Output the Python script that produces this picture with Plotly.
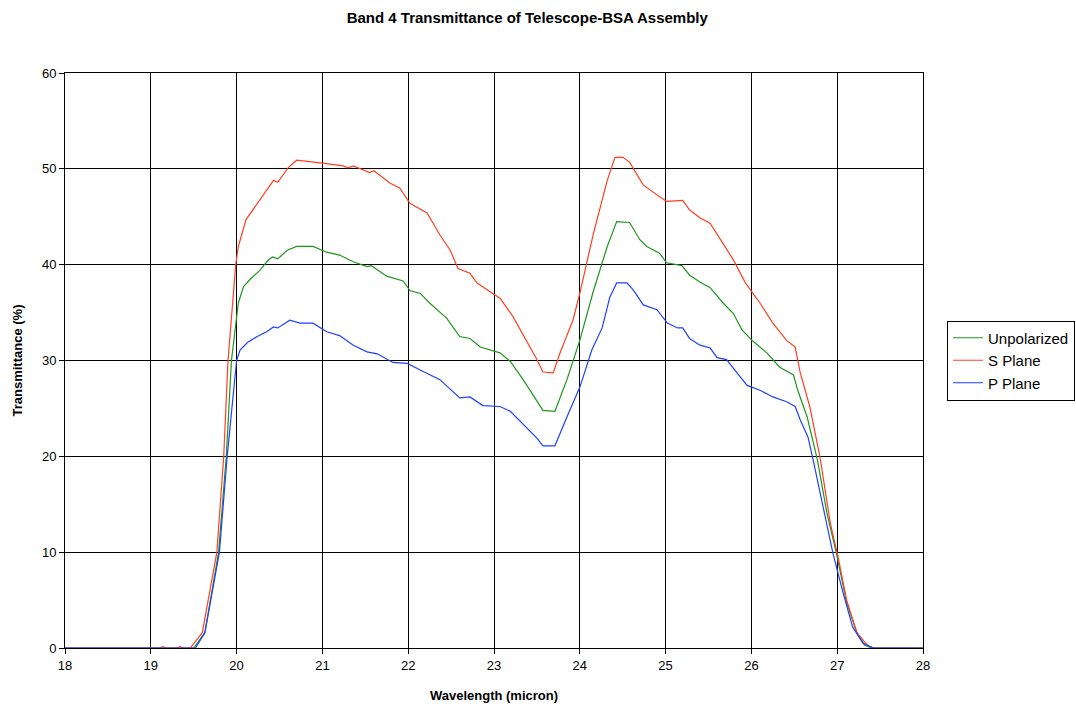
import plotly.graph_objects as go

# Unpolarized
unp_x = [18.0, 19.5, 19.63, 19.79, 19.88, 19.94, 20.02, 20.08, 20.15, 20.27, 20.37, 20.42, 20.48, 20.59, 20.7,
         20.89, 21.05, 21.2, 21.36, 21.52, 21.57, 21.75, 21.94, 22.02, 22.14, 22.25, 22.45, 22.6, 22.72, 22.84,
         23.07, 23.19, 23.34, 23.45, 23.57, 23.71, 23.85, 24.0, 24.16, 24.32, 24.43, 24.58, 24.7, 24.78, 24.93,
         25.01, 25.19, 25.28, 25.4, 25.52, 25.67, 25.79, 25.89, 26.02, 26.18, 26.33, 26.49, 26.54, 26.65, 26.77,
         26.88, 27.0, 27.11, 27.23, 27.32, 27.4, 28.0]
unp_y = [0, 0, 1.6, 10.0, 20.0, 30.0, 36.0, 37.7, 38.4, 39.4, 40.5, 40.8, 40.6, 41.5, 41.9,
         41.9, 41.3, 41.0, 40.3, 39.8, 39.9, 38.8, 38.3, 37.3, 37.0, 36.0, 34.4, 32.5, 32.3, 31.4,
         30.8, 29.9, 28.0, 26.4, 24.8, 24.7, 28.0, 32.1, 37.3, 41.9, 44.5, 44.4, 42.6, 41.9, 41.2,
         40.2, 39.9, 38.9, 38.2, 37.6, 36.0, 34.9, 33.2, 32.0, 30.8, 29.3, 28.5, 26.9, 24.1, 19.6,
         14.1, 9.5, 4.7, 1.6, 0.3, 0, 0]

# S Plane
s_x = [18.0, 19.1, 19.14, 19.18, 19.3, 19.34, 19.38, 19.46, 19.6, 19.77, 19.85, 19.9, 19.99, 20.02, 20.11,
       20.24, 20.35, 20.43, 20.48, 20.6, 20.7, 20.82, 21.0, 21.24, 21.3, 21.36, 21.55, 21.6, 21.79, 21.9,
       22.02, 22.22, 22.37, 22.49, 22.58, 22.72, 22.8, 22.95, 23.07, 23.22, 23.38, 23.5, 23.57, 23.69,
       23.77, 23.92, 24.0, 24.16, 24.32, 24.41, 24.5, 24.58, 24.74, 24.85, 25.01, 25.2, 25.28, 25.4, 25.52,
       25.67, 25.79, 25.93, 26.1, 26.25, 26.41, 26.51, 26.57, 26.68, 26.8, 26.92, 27.01, 27.11, 27.23,
       27.35, 27.42, 28.0]
s_y = [0, 0, 0.15, 0, 0, 0.15, 0, 0, 1.6, 10.0, 20.0, 30.0, 40.0, 41.9, 44.7,
       46.4, 47.8, 48.8, 48.6, 50.1, 50.9, 50.8, 50.6, 50.3, 50.1, 50.3, 49.6, 49.8, 48.5, 48.0,
       46.4, 45.4, 43.1, 41.5, 39.6, 39.1, 38.1, 37.2, 36.5, 34.6, 32.1, 30.1, 28.8, 28.7,
       30.8, 34.2, 37.0, 43.3, 48.8, 51.2, 51.2, 50.7, 48.3, 47.6, 46.6, 46.7, 45.7, 44.9, 44.3,
       42.2, 40.5, 38.1, 36.0, 33.9, 32.1, 31.4, 28.7, 25.2, 19.9, 13.0, 9.5, 5.0, 1.6,
       0.3, 0, 0]

# P Plane
p_x = [18.0, 19.52, 19.63, 19.8, 19.89, 20.0, 20.04, 20.13, 20.24, 20.35, 20.43, 20.48, 20.62, 20.74,
       20.89, 21.05, 21.2, 21.36, 21.52, 21.64, 21.82, 21.99, 22.14, 22.37, 22.6, 22.72, 22.87, 23.07,
       23.19, 23.34, 23.5, 23.57, 23.71, 23.85, 24.0, 24.14, 24.26, 24.35, 24.43, 24.55, 24.62, 24.74,
       24.9, 25.02, 25.14, 25.2, 25.28, 25.4, 25.52, 25.6, 25.71, 25.87, 25.95, 26.1, 26.25, 26.41,
       26.51, 26.57, 26.66, 26.72, 26.84, 26.95, 27.07, 27.18, 27.3, 27.42, 28.0]
p_y = [0, 0, 1.6, 10.0, 20.0, 30.0, 31.1, 31.9, 32.5, 33.0, 33.5, 33.4, 34.2, 33.9,
       33.9, 33.0, 32.6, 31.6, 30.9, 30.7, 29.8, 29.7, 29.0, 28.0, 26.1, 26.2, 25.3, 25.2,
       24.7, 23.3, 21.9, 21.1, 21.1, 24.1, 27.2, 31.1, 33.4, 36.6, 38.1, 38.1, 37.4, 35.8,
       35.3, 33.9, 33.4, 33.4, 32.3, 31.6, 31.3, 30.3, 30.1, 28.3, 27.4, 26.9, 26.2, 25.7,
       25.2, 23.8, 22.0, 19.6, 14.7, 9.9, 5.7, 2.2, 0.5, 0, 0]

x_ticks = list(range(18, 29))
y_ticks = list(range(0, 61, 10))

fig = go.Figure()
fig.add_trace(go.Scatter(x=unp_x, y=unp_y, mode="lines", name="Unpolarized",
                         line=dict(color="#1E961E", width=1.2)))
fig.add_trace(go.Scatter(x=s_x, y=s_y, mode="lines", name="S Plane",
                         line=dict(color="#FF4020", width=1.2)))
fig.add_trace(go.Scatter(x=p_x, y=p_y, mode="lines", name="P Plane",
                         line=dict(color="#2040FF", width=1.2)))

axis_common = dict(showgrid=True, gridcolor="black", gridwidth=1, showline=True, linecolor="black",
                   linewidth=1, ticks="outside", ticklen=5, tickcolor="black", zeroline=False,
                   tickfont=dict(family="Arial, Liberation Sans", size=13, color="black"), mirror=True,
                   automargin=False)

fig.update_layout(
    width=1076, height=710,
    paper_bgcolor="white", plot_bgcolor="white",
    margin=dict(l=65, r=153, t=73, b=62, autoexpand=False),
    title=dict(text="<b>Band 4 Transmittance of Telescope-BSA Assembly</b>", x=0.49, xanchor="center",
               y=0.983, yanchor="top",
               font=dict(family="Arial, Liberation Sans", size=15, color="black")),
    xaxis=dict(range=[18, 28], tickvals=x_ticks, ticktext=[str(v) for v in x_ticks],
               title=dict(text="<b>Wavelength (micron)</b>", standoff=19,
                          font=dict(family="Arial, Liberation Sans", size=13, color="black")),
               **axis_common),
    yaxis=dict(range=[0, 60], tickvals=y_ticks, ticktext=[str(v) for v in y_ticks],
               title=dict(text="<b>Transmittance (%)</b>", standoff=16,
                          font=dict(family="Arial, Liberation Sans", size=13, color="black")),
               **axis_common),
    legend=dict(x=1.028, y=0.5, xanchor="left", yanchor="middle", bordercolor="black", borderwidth=1,
                bgcolor="white", font=dict(family="Arial, Liberation Sans", size=15, color="black"),
                tracegroupgap=0, itemwidth=30),
    showlegend=True,
)

fig.write_html("out.html", config={"displayModeBar": False},
               post_script="document.body.style.margin='0';document.body.style.overflow='hidden';")
